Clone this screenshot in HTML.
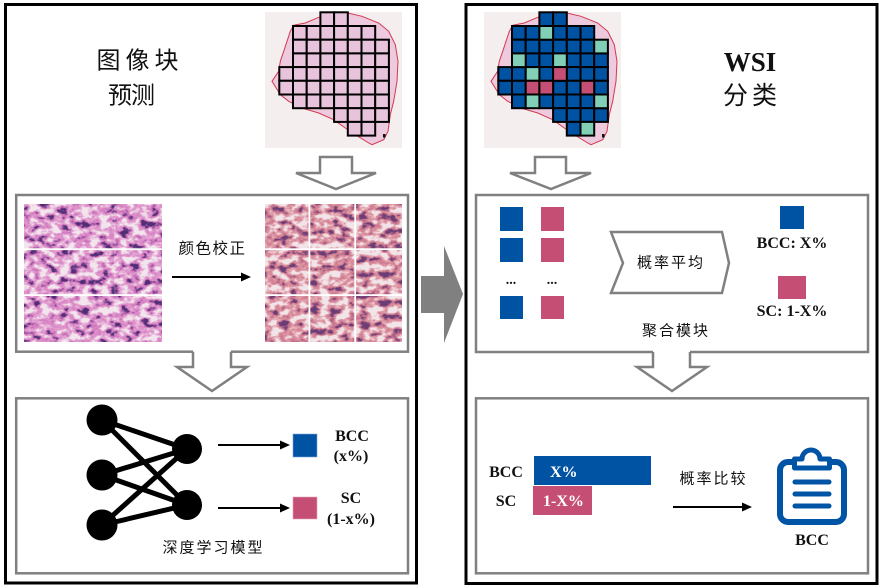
<!DOCTYPE html>
<html><head><meta charset="utf-8">
<style>
html,body{margin:0;padding:0;background:#fff;}
svg{display:block;}
.cj{font-family:"Liberation Sans","Noto Sans CJK SC",sans-serif;fill:#111;}
.sb{font-family:"Liberation Serif",serif;font-weight:bold;fill:#111;}
</style></head><body>
<svg width="882" height="588" viewBox="0 0 882 588" xmlns="http://www.w3.org/2000/svg">
<defs>
 <filter id="hl" x="0" y="0" width="1" height="1" color-interpolation-filters="sRGB">
  <feTurbulence type="fractalNoise" baseFrequency="0.1 0.14" numOctaves="3" seed="7"/>
  <feColorMatrix type="matrix" values="1 0 0 0 0  1 0 0 0 0  1 0 0 0 0  0 0 0 0 1"/>
  <feComponentTransfer>
   <feFuncR type="table" tableValues="0.32 0.32 0.32 0.32 0.32 0.32 0.38 0.62 0.82 0.86 0.87 0.9 0.93 0.95 0.95 0.95 0.95 0.95 0.95 0.95 0.95"/>
   <feFuncG type="table" tableValues="0.18 0.18 0.18 0.18 0.18 0.18 0.22 0.35 0.48 0.54 0.58 0.68 0.8 0.9 0.9 0.9 0.9 0.9 0.9 0.9 0.9"/>
   <feFuncB type="table" tableValues="0.46 0.46 0.46 0.46 0.46 0.46 0.5 0.64 0.75 0.78 0.8 0.84 0.89 0.93 0.93 0.93 0.93 0.93 0.93 0.93 0.93"/>
  </feComponentTransfer>
 </filter>
 <filter id="hr" x="0" y="0" width="1" height="1" color-interpolation-filters="sRGB">
  <feTurbulence type="fractalNoise" baseFrequency="0.1 0.14" numOctaves="3" seed="11"/>
  <feColorMatrix type="matrix" values="1 0 0 0 0  1 0 0 0 0  1 0 0 0 0  0 0 0 0 1"/>
  <feComponentTransfer>
   <feFuncR type="table" tableValues="0.42 0.42 0.42 0.42 0.42 0.42 0.48 0.66 0.8 0.84 0.86 0.9 0.93 0.95 0.95 0.95 0.95 0.95 0.95 0.95 0.95"/>
   <feFuncG type="table" tableValues="0.24 0.24 0.24 0.24 0.24 0.24 0.27 0.38 0.48 0.53 0.58 0.68 0.8 0.9 0.9 0.9 0.9 0.9 0.9 0.9 0.9"/>
   <feFuncB type="table" tableValues="0.46 0.46 0.46 0.46 0.46 0.46 0.48 0.53 0.57 0.6 0.63 0.72 0.83 0.92 0.92 0.92 0.92 0.92 0.92 0.92 0.92"/>
  </feComponentTransfer>
 </filter>
 <path id="tis" d="M293.7,25.3 L305.3,23 L318.7,17.3 L348,13 L362,16.3 L378.7,23 L388.7,31.3 L395.3,44.7 L398,61.3 L397,81.3 L393.7,101.3 L390.3,114.7 L388,131.3 L383.7,139.7 L372,144.7 L368.7,143 L355.3,134.7 L345.3,128 L333.7,119.7 L318.7,113 L302,108 L288.7,101.3 L280.3,94.7 L272,81.3 L278.7,71.3 L280.3,61.3 L283.7,51.3 L287,41.3 L290.3,31.3 Z"/>
</defs>
<rect width="882" height="588" fill="#fff"/>

<!-- Outer boxes -->
<rect x="5.5" y="4.5" width="411" height="578.5" fill="none" stroke="#000" stroke-width="3"/>
<rect x="466" y="4.5" width="411" height="579" fill="none" stroke="#000" stroke-width="3"/>

<!-- Inner boxes -->
<rect x="16.2" y="195" width="391.8" height="156.7" fill="none" stroke="#808080" stroke-width="2.5"/>
<rect x="16.2" y="398.3" width="391.8" height="175" fill="none" stroke="#808080" stroke-width="2.5"/>
<rect x="476" y="195" width="392" height="157" fill="none" stroke="#808080" stroke-width="2.5"/>
<rect x="476" y="398.3" width="392" height="175" fill="none" stroke="#808080" stroke-width="2.5"/>

<!-- Hollow arrows -->
<polygon points="320,157 352,157 352,173 376,173 336,189 296,173 320,173" fill="#fff" stroke="#808080" stroke-width="2.5" stroke-linejoin="miter"/>
<polygon points="535,157 566,157 566,173 591,173 551,189 510,173 535,173" fill="#fff" stroke="#808080" stroke-width="2.5"/>
<polygon points="193,350 231,350 231,367 247,367 212,391 177,367 193,367" fill="#fff" stroke="none"/>
<polyline points="193,351.7 193,367 177,367 212,391 247,367 231,367 231,351.7" fill="none" stroke="#808080" stroke-width="2.5"/>
<polygon points="653,350 690,350 690,367 707,367 672,391 637,367 653,367" fill="#fff" stroke="none"/>
<polyline points="653,352 653,367 637,367 672,391 707,367 690,367 690,352" fill="none" stroke="#808080" stroke-width="2.5"/>

<!-- Big gray arrow -->
<polygon points="421,276 444,276 444,246 463,294 444,343 444,313 421,313" fill="#808080"/>

<!-- Titles -->
<text class="cj" x="140" y="61" font-size="24" letter-spacing="5" text-anchor="middle" dominant-baseline="central">图像块</text>
<text class="cj" x="131" y="96" font-size="24" letter-spacing="-1" text-anchor="middle" dominant-baseline="central">预测</text>
<text class="sb" x="750" y="71" font-size="27" text-anchor="middle">WSI</text>
<text class="cj" x="752" y="96" font-size="25" letter-spacing="4" text-anchor="middle" dominant-baseline="central">分类</text>

<!-- Left WSI -->
<rect x="265" y="12" width="137" height="136" fill="#f4eeef"/>
<use href="#tis" fill="#edcadd" stroke="#d23a50" stroke-width="1"/>
<g fill="#e7c4dc" stroke="#000" stroke-width="2">
 <rect x="320.4" y="12.3" width="13.7" height="13.7"/><rect x="334.1" y="12.3" width="13.7" height="13.7"/>
 <rect x="293" y="26" width="13.7" height="13.7"/><rect x="306.7" y="26" width="13.7" height="13.7"/><rect x="320.4" y="26" width="13.7" height="13.7"/><rect x="334.1" y="26" width="13.7" height="13.7"/><rect x="347.8" y="26" width="13.7" height="13.7"/><rect x="361.5" y="26" width="13.7" height="13.7"/>
 <rect x="293" y="39.7" width="13.7" height="13.7"/><rect x="306.7" y="39.7" width="13.7" height="13.7"/><rect x="320.4" y="39.7" width="13.7" height="13.7"/><rect x="334.1" y="39.7" width="13.7" height="13.7"/><rect x="347.8" y="39.7" width="13.7" height="13.7"/><rect x="361.5" y="39.7" width="13.7" height="13.7"/><rect x="375.2" y="39.7" width="13.7" height="13.7"/>
 <rect x="293" y="53.4" width="13.7" height="13.7"/><rect x="306.7" y="53.4" width="13.7" height="13.7"/><rect x="320.4" y="53.4" width="13.7" height="13.7"/><rect x="334.1" y="53.4" width="13.7" height="13.7"/><rect x="347.8" y="53.4" width="13.7" height="13.7"/><rect x="361.5" y="53.4" width="13.7" height="13.7"/><rect x="375.2" y="53.4" width="13.7" height="13.7"/>
 <rect x="279.3" y="67.1" width="13.7" height="13.7"/><rect x="293" y="67.1" width="13.7" height="13.7"/><rect x="306.7" y="67.1" width="13.7" height="13.7"/><rect x="320.4" y="67.1" width="13.7" height="13.7"/><rect x="334.1" y="67.1" width="13.7" height="13.7"/><rect x="347.8" y="67.1" width="13.7" height="13.7"/><rect x="361.5" y="67.1" width="13.7" height="13.7"/><rect x="375.2" y="67.1" width="13.7" height="13.7"/>
 <rect x="279.3" y="80.8" width="13.7" height="13.7"/><rect x="293" y="80.8" width="13.7" height="13.7"/><rect x="306.7" y="80.8" width="13.7" height="13.7"/><rect x="320.4" y="80.8" width="13.7" height="13.7"/><rect x="334.1" y="80.8" width="13.7" height="13.7"/><rect x="347.8" y="80.8" width="13.7" height="13.7"/><rect x="361.5" y="80.8" width="13.7" height="13.7"/><rect x="375.2" y="80.8" width="13.7" height="13.7"/>
 <rect x="293" y="94.5" width="13.7" height="13.7"/><rect x="306.7" y="94.5" width="13.7" height="13.7"/><rect x="320.4" y="94.5" width="13.7" height="13.7"/><rect x="334.1" y="94.5" width="13.7" height="13.7"/><rect x="347.8" y="94.5" width="13.7" height="13.7"/><rect x="361.5" y="94.5" width="13.7" height="13.7"/><rect x="375.2" y="94.5" width="13.7" height="13.7"/>
 <rect x="334.1" y="108.2" width="13.7" height="13.7"/><rect x="347.8" y="108.2" width="13.7" height="13.7"/><rect x="361.5" y="108.2" width="13.7" height="13.7"/><rect x="375.2" y="108.2" width="13.7" height="13.7"/>
 <rect x="347.8" y="121.9" width="13.7" height="13.7"/><rect x="361.5" y="121.9" width="13.7" height="13.7"/>
</g>
<rect x="383" y="134" width="2.5" height="3.5" fill="#111"/>

<!-- Right WSI -->
<g transform="translate(219,0)">
<rect x="265" y="12" width="137" height="136" fill="#f4eeef"/>
<use href="#tis" fill="#edcadd" stroke="#d23a50" stroke-width="1"/>
<g stroke="#000" stroke-width="2">
 <g fill="#0052a3">
 <rect x="320.4" y="12.3" width="13.7" height="13.7"/><rect x="334.1" y="12.3" width="13.7" height="13.7"/>
 <rect x="293" y="26" width="13.7" height="13.7"/><rect x="306.7" y="26" width="13.7" height="13.7"/><rect x="334.1" y="26" width="13.7" height="13.7"/><rect x="347.8" y="26" width="13.7" height="13.7"/><rect x="361.5" y="26" width="13.7" height="13.7"/>
 <rect x="293" y="39.7" width="13.7" height="13.7"/><rect x="306.7" y="39.7" width="13.7" height="13.7"/><rect x="320.4" y="39.7" width="13.7" height="13.7"/><rect x="334.1" y="39.7" width="13.7" height="13.7"/><rect x="347.8" y="39.7" width="13.7" height="13.7"/><rect x="361.5" y="39.7" width="13.7" height="13.7"/>
 <rect x="306.7" y="53.4" width="13.7" height="13.7"/><rect x="320.4" y="53.4" width="13.7" height="13.7"/><rect x="347.8" y="53.4" width="13.7" height="13.7"/><rect x="361.5" y="53.4" width="13.7" height="13.7"/><rect x="375.2" y="53.4" width="13.7" height="13.7"/>
 <rect x="279.3" y="67.1" width="13.7" height="13.7"/><rect x="293" y="67.1" width="13.7" height="13.7"/><rect x="320.4" y="67.1" width="13.7" height="13.7"/><rect x="347.8" y="67.1" width="13.7" height="13.7"/><rect x="361.5" y="67.1" width="13.7" height="13.7"/><rect x="375.2" y="67.1" width="13.7" height="13.7"/>
 <rect x="279.3" y="80.8" width="13.7" height="13.7"/><rect x="293" y="80.8" width="13.7" height="13.7"/><rect x="334.1" y="80.8" width="13.7" height="13.7"/><rect x="347.8" y="80.8" width="13.7" height="13.7"/><rect x="375.2" y="80.8" width="13.7" height="13.7"/>
 <rect x="293" y="94.5" width="13.7" height="13.7"/><rect x="320.4" y="94.5" width="13.7" height="13.7"/><rect x="334.1" y="94.5" width="13.7" height="13.7"/><rect x="347.8" y="94.5" width="13.7" height="13.7"/><rect x="361.5" y="94.5" width="13.7" height="13.7"/>
 <rect x="334.1" y="108.2" width="13.7" height="13.7"/><rect x="347.8" y="108.2" width="13.7" height="13.7"/><rect x="361.5" y="108.2" width="13.7" height="13.7"/><rect x="375.2" y="108.2" width="13.7" height="13.7"/>
 <rect x="347.8" y="121.9" width="13.7" height="13.7"/>
 </g>
 <g fill="#80cfb6">
 <rect x="320.4" y="26" width="13.7" height="13.7"/>
 <rect x="375.2" y="39.7" width="13.7" height="13.7"/>
 <rect x="293" y="53.4" width="13.7" height="13.7"/><rect x="334.1" y="53.4" width="13.7" height="13.7"/>
 <rect x="306.7" y="67.1" width="13.7" height="13.7"/>
 <rect x="306.7" y="94.5" width="13.7" height="13.7"/><rect x="375.2" y="94.5" width="13.7" height="13.7"/>
 <rect x="361.5" y="121.9" width="13.7" height="13.7"/>
 </g>
 <g fill="#c54e75">
 <rect x="334.1" y="67.1" width="13.7" height="13.7"/>
 <rect x="306.7" y="80.8" width="13.7" height="13.7"/><rect x="320.4" y="80.8" width="13.7" height="13.7"/><rect x="361.5" y="80.8" width="13.7" height="13.7"/>
 </g>
</g>
<rect x="383" y="134" width="2.5" height="3.5" fill="#111"/>
</g>

<!-- Histology images -->
<rect x="24" y="204" width="138" height="138" fill="#c888b8" filter="url(#hl)"/>
<rect x="24" y="248.3" width="138" height="1.8" fill="#fff"/>
<rect x="24" y="294.2" width="138" height="1.8" fill="#fff"/>
<rect x="68.5" y="204" width="0.8" height="138" fill="#fff" opacity="0.35"/>
<rect x="114.5" y="204" width="0.8" height="138" fill="#fff" opacity="0.35"/>

<rect x="265" y="204" width="137" height="138" fill="#c88890" filter="url(#hr)"/>
<rect x="265" y="248.3" width="137" height="1.8" fill="#fff"/>
<rect x="265" y="294.2" width="137" height="1.8" fill="#fff"/>
<rect x="308.5" y="204" width="1.8" height="138" fill="#fff"/>
<rect x="354.3" y="204" width="1.8" height="138" fill="#fff"/>

<text class="cj" x="212.5" y="249" font-size="15.5" letter-spacing="1.5" text-anchor="middle" dominant-baseline="central">颜色校正</text>
<line x1="172" y1="277" x2="243" y2="277" stroke="#000" stroke-width="2"/>
<polygon points="241,272.5 251,277 241,281.5" fill="#000"/>

<!-- Neural network -->
<g stroke="#000" stroke-width="5">
 <line x1="102" y1="420" x2="187" y2="449"/>
 <line x1="102" y1="420" x2="187" y2="505"/>
 <line x1="102" y1="475" x2="187" y2="449"/>
 <line x1="102" y1="475" x2="187" y2="505"/>
 <line x1="102" y1="525" x2="187" y2="449"/>
 <line x1="102" y1="525" x2="187" y2="505"/>
</g>
<g fill="#000">
 <circle cx="102" cy="420" r="15.5"/>
 <circle cx="102" cy="475" r="15.5"/>
 <circle cx="102" cy="525" r="15.5"/>
 <circle cx="187" cy="449" r="15"/>
 <circle cx="187" cy="505" r="15"/>
</g>
<line x1="218" y1="445" x2="282" y2="445" stroke="#000" stroke-width="2"/>
<polygon points="280,440.5 290,445 280,449.5" fill="#000"/>
<line x1="218" y1="508" x2="282" y2="508" stroke="#000" stroke-width="2"/>
<polygon points="280,503.5 290,508 280,512.5" fill="#000"/>
<rect x="293" y="434" width="24" height="23" fill="#0052a3" stroke="#7fa6d6" stroke-width="0.6"/>
<rect x="293" y="497" width="24" height="22" fill="#c54e75" stroke="#e8a0b8" stroke-width="0.6"/>
<text class="sb" x="352" y="441" font-size="16" text-anchor="middle">BCC</text>
<text class="sb" x="351" y="461" font-size="16" text-anchor="middle">(x%)</text>
<text class="sb" x="351" y="503" font-size="16" text-anchor="middle">SC</text>
<text class="sb" x="351" y="524" font-size="16" text-anchor="middle">(1-x%)</text>
<text class="cj" x="213.5" y="548" font-size="15" letter-spacing="2" text-anchor="middle" dominant-baseline="central">深度学习模型</text>

<!-- Aggregation module -->
<g fill="#0052a3">
 <rect x="500" y="207" width="23" height="24"/>
 <rect x="500" y="238" width="23" height="24"/>
 <rect x="500" y="296" width="23" height="23"/>
</g>
<g fill="#c54e75">
 <rect x="541" y="207" width="23" height="24"/>
 <rect x="541" y="238" width="23" height="24"/>
 <rect x="541" y="296" width="23" height="23"/>
</g>
<text class="sb" x="511" y="284" font-size="14" text-anchor="middle">...</text>
<text class="sb" x="552" y="284" font-size="14" text-anchor="middle">...</text>
<polygon points="611,232 722,232 729,263 722,293 611,293 623,263" fill="#fff" stroke="#808080" stroke-width="2.5"/>
<text class="cj" x="671" y="263" font-size="15" letter-spacing="2" text-anchor="middle" dominant-baseline="central">概率平均</text>
<rect x="780" y="206" width="24" height="23" fill="#0052a3"/>
<text class="sb" x="792" y="248" font-size="16" text-anchor="middle">BCC: X%</text>
<rect x="778" y="276" width="28" height="23" fill="#c54e75"/>
<text class="sb" x="792" y="316" font-size="16" text-anchor="middle">SC: 1-X%</text>
<text class="cj" x="676" y="331" font-size="15" letter-spacing="2" text-anchor="middle" dominant-baseline="central">聚合模块</text>

<!-- Comparison -->
<text class="sb" x="506" y="477" font-size="16" text-anchor="middle">BCC</text>
<text class="sb" x="506" y="506" font-size="16" text-anchor="middle">SC</text>
<rect x="534" y="456" width="117" height="29" fill="#0052a3"/>
<rect x="533" y="486" width="59" height="29" fill="#c54e75"/>
<text class="sb" x="550" y="477" font-size="16" style="fill:#fff">X%</text>
<text class="sb" x="543" y="506" font-size="16" style="fill:#fff">1-X%</text>
<text class="cj" x="713.5" y="479" font-size="15" letter-spacing="2" text-anchor="middle" dominant-baseline="central">概率比较</text>
<line x1="673" y1="507" x2="744" y2="507" stroke="#000" stroke-width="2"/>
<polygon points="742,502.5 752,507 742,511.5" fill="#000"/>

<!-- Clipboard -->
<rect x="780" y="462" width="64" height="60" rx="8" fill="none" stroke="#0054a6" stroke-width="6"/>
<path d="M794.5,468 L794.5,459 L802,459 A9,9 0 0 1 820,459 L829.5,459 L829.5,468 Z" fill="#fff" stroke="#0054a6" stroke-width="5" stroke-linejoin="round"/>
<g stroke="#0054a6" stroke-width="5" stroke-linecap="round">
 <line x1="795" y1="482" x2="829" y2="482"/>
 <line x1="795" y1="494" x2="829" y2="494"/>
 <line x1="795" y1="506" x2="829" y2="506"/>
</g>
<text class="sb" x="812" y="545" font-size="16" text-anchor="middle">BCC</text>
</svg>
</body></html>
